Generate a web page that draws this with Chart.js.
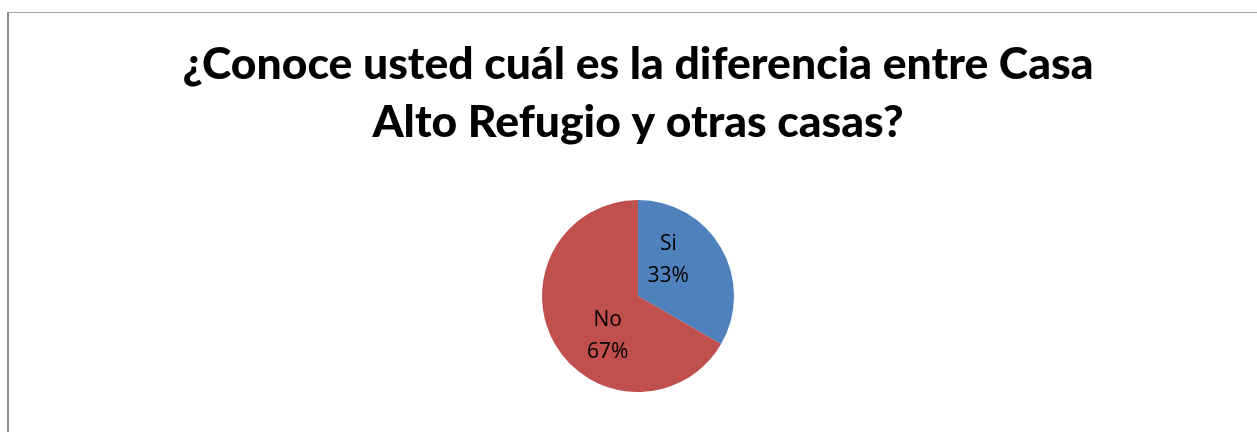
<!DOCTYPE html>
<html>
<head>
<meta charset="utf-8">
<script src="https://cdn.jsdelivr.net/npm/chart.js@4.4.0/dist/chart.umd.min.js"></script>
<style>
    html, body { margin: 0; padding: 0; background: #fff; overflow: hidden; }
    #frame {
        position: absolute; left: 7px; top: 12px; width: 1400px; height: 600px;
        border-left: 2px solid #8c8c8c; border-top: 1px solid #a6a6a6;
    }
    #wrap { position: absolute; left: 0; top: 0; width: 1257px; height: 432px; }
</style>
</head>
<body>
<div id="frame"></div>
<div id="wrap"><canvas id="pieChart"></canvas></div>
<script>
    var titleLines = ['¿Conoce usted cuál es la diferencia entre Casa', 'Alto Refugio y otras casas?'];
    var categories = ['Si', 'No'];
    var answers = [1, 2];
    var sliceColors = ['#4F81BD', '#C0504D'];

    var titleFamily = 'Lato, "Open Sans", sans-serif';
    var labelFamily = '"Open Sans", Lato, sans-serif';

    // size the title so the first line is about as wide as the original
    function fitTitleSize(text, targetWidth) {
        var ctx = document.createElement('canvas').getContext('2d');
        ctx.font = '900 100px ' + titleFamily;
        return Math.round(100 * targetWidth / ctx.measureText(text).width * 10) / 10;
    }
    var titleSize = fitTitleSize(titleLines[0], 911);

    var pieLabels = {
        id: 'pieLabels',
        afterDatasetsDraw: function (chart) {
            var ctx = chart.ctx;
            var meta = chart.getDatasetMeta(0);
            var data = chart.data.datasets[0].data;
            var total = data.reduce(function (a, b) { return a + b; }, 0);
            ctx.save();
            ctx.fillStyle = '#000';
            ctx.font = '21px ' + labelFamily;
            ctx.textAlign = 'center';
            ctx.textBaseline = 'middle';
            meta.data.forEach(function (arc, i) {
                var mid = (arc.startAngle + arc.endAngle) / 2 - 0.38;
                var r = arc.outerRadius * 0.51;
                var x = arc.x + Math.cos(mid) * r;
                var y = arc.y + Math.sin(mid) * r + 2;
                var pct = Math.round(data[i] / total * 100) + '%';
                ctx.fillText(chart.data.labels[i], x, y - 16);
                ctx.fillText(pct, x, y + 16);
            });
            ctx.restore();
        }
    };

    new Chart('pieChart', {
        type: 'pie',
        data: {
            labels: categories,
            datasets: [{
                data: answers,
                backgroundColor: sliceColors,
                borderWidth: 0
            }]
        },
        options: {
            responsive: true,
            maintainAspectRatio: false,
            animation: false,
            layout: { padding: { left: 19, bottom: 40 } },
            plugins: {
                legend: { display: false },
                tooltip: { enabled: false },
                title: {
                    display: true,
                    text: titleLines,
                    color: '#000',
                    font: { family: titleFamily, size: titleSize, weight: '900', lineHeight: 58 / titleSize },
                    padding: { top: 36, bottom: 48 }
                }
            }
        },
        plugins: [pieLabels]
    });
</script>
</body>
</html>
